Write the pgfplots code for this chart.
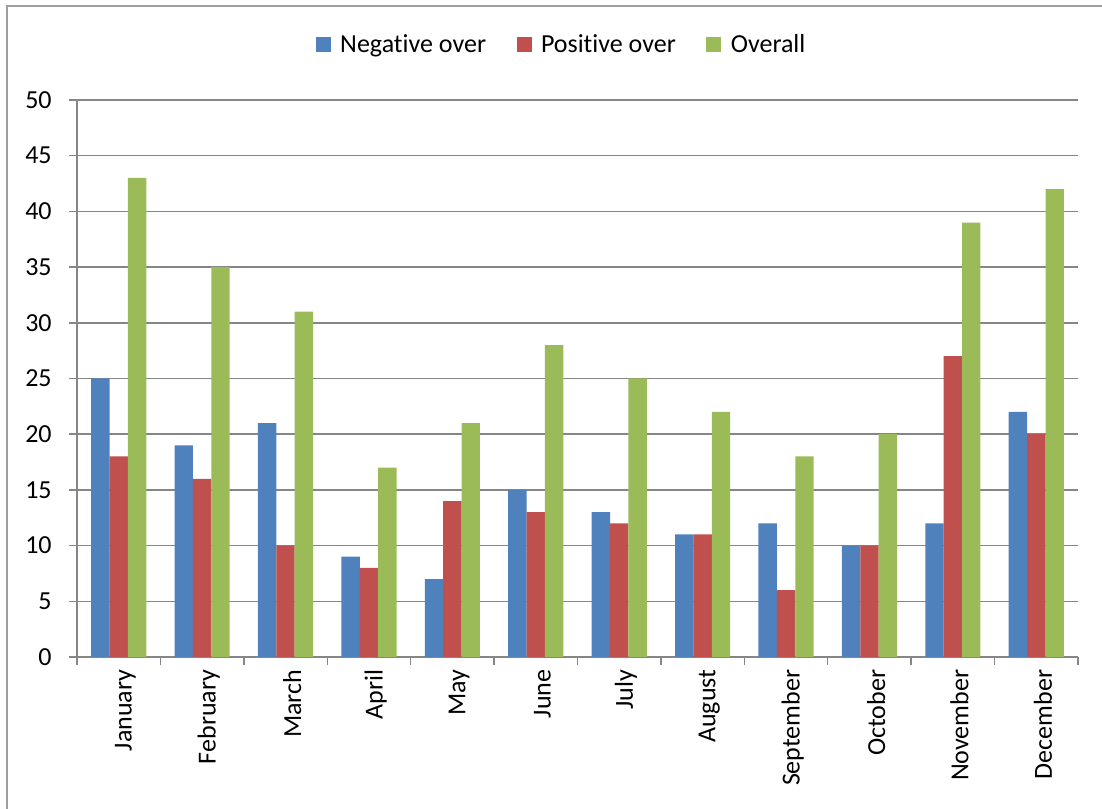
\documentclass[border=0pt]{standalone}
\usepackage{pgfplots}
\pgfplotsset{compat=1.18}
\usepackage{fontspec}
\setmainfont{Carlito}[Ligatures=NoCommon]
\definecolor{cblue}{HTML}{4F81BD}
\definecolor{cred}{HTML}{C0504D}
\definecolor{cgreen}{HTML}{9BBB59}
\definecolor{cgrid}{HTML}{868686}
\begin{document}
\begin{tikzpicture}
\path[use as bounding box] (-57.75pt,-114pt) rectangle (768.75pt,492.75pt);
\draw[cgrid!80, line width=1.2pt] (-52.5pt,-114pt) -- (-52.5pt,488.25pt) -- (768.75pt,488.25pt);
\begin{axis}[
  at={(0pt,0pt)}, anchor=south west,
  scale only axis,
  width=750.75pt, height=417.75pt,
  ybar=0pt, bar width=13.8pt,
  xmin=-0.5, xmax=11.5, ymin=0, ymax=50,
  axis x line*=bottom, axis y line*=left,
  axis line style={cgrid, line width=1.1pt, -},
  xtick={0,...,11},
  xticklabels={January,February,March,April,May,June,July,August,September,October,November,December},
  minor xtick={-0.5,0.5,...,11.5},
  major x tick style={draw=none},
  minor tick length=6pt,
  ytick={0,5,...,50},
  major tick length=6pt,
  tick align=outside,
  tick style={cgrid, line width=1.1pt},
  ymajorgrids,
  grid style={cgrid, line width=1.1pt},
  /pgf/number format/assume math mode=true,
  tick label style={font=\fontsize{19.5}{22}\selectfont, text=black},
  yticklabel style={xshift=-9.5pt},
  xticklabel style={rotate=90, anchor=east, xshift=0pt, yshift=-5pt},
  legend columns=3,
  legend style={at={(0.4845,1.0988)}, anchor=center, draw=none, fill=none,
    font=\fontsize{19.5}{22}\selectfont,
    /tikz/every odd column/.append style={column sep=5pt},
    /tikz/every even column/.append style={column sep=21pt}},
  legend image code/.code={\fill[#1] (0pt,-5.6pt) rectangle (11.25pt,5.6pt);},
]
\addplot[fill=cblue, draw=none] coordinates {(0,25)(1,19)(2,21)(3,9)(4,7)(5,15)(6,13)(7,11)(8,12)(9,10)(10,12)(11,22)};
\addplot[fill=cred, draw=none] coordinates {(0,18)(1,16)(2,10)(3,8)(4,14)(5,13)(6,12)(7,11)(8,6)(9,10)(10,27)(11,20)};
\addplot[fill=cgreen, draw=none] coordinates {(0,43)(1,35)(2,31)(3,17)(4,21)(5,28)(6,25)(7,22)(8,18)(9,20)(10,39)(11,42)};
\legend{Negative over, Positive over, Overall}
\end{axis}
\end{tikzpicture}
\end{document}
